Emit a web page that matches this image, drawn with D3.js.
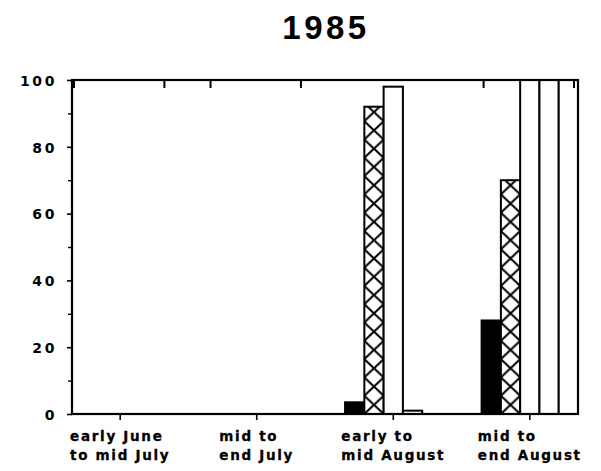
<!DOCTYPE html>
<html>
<head>
<meta charset="utf-8">
<script src="https://cdn.jsdelivr.net/npm/d3@7"></script>
<style>
  html, body { margin: 0; padding: 0; background: #fff; }
  svg { display: block; }
</style>
</head>
<body>
<svg id="chart" width="601" height="471"></svg>
<script>
// ---- data ----
const title = "1985";
const categories = [
  ["early June", "to mid July"],
  ["mid to", "end July"],
  ["early to", "mid August"],
  ["mid to", "end August"]
];
const seriesNames = ["S1", "S2", "S3", "S4", "S5"];
const seriesStyles = ["solid", "crosshatch", "open", "open", "open"];
const s1 = [0, 0, 3.5, 28];
const s2 = [0, 0, 92, 70];
const s3 = [0, 0, 98, 100];
const s4 = [0, 0, 1, 100];
const s5 = [0, 0, 0, 100];
const seriesValues = [s1, s2, s3, s4, s5];
const yTicks = [0, 20, 40, 60, 80, 100];
const yMinorTicks = [10, 30, 50, 70, 90];
const topTickCats = [0, 1, 3];

// ---- layout ----
const svg = d3.select("#chart");
const L = 72, R = 578, T = 80, B = 414;
const ink = "#000";

const catIdx = categories.map((d, i) => i);
const x = d3.scaleBand().domain(catIdx).range([L, R]).paddingInner(0.294).paddingOuter(0);
const xs = d3.scaleBand().domain(seriesNames).range([0, x.bandwidth()]).padding(0);
const y = d3.scaleLinear().domain([0, 100]).range([B, T]);

const defs = svg.append("defs");
const cellH = 18.3;

// bars
const bars = [];
categories.forEach((c, ci) => {
  seriesNames.forEach((s, si) => {
    const v = seriesValues[si][ci];
    if (v > 0) bars.push({ci, si, v});
  });
});

bars.forEach((b, k) => {
  const bx = x(b.ci) + xs(seriesNames[b.si]);
  const bw = xs.bandwidth();
  const style = seriesStyles[b.si];
  let fill = "#fff";
  if (style === "solid") fill = ink;
  if (style === "crosshatch") {
    const id = "hatch" + k;
    const p = defs.append("pattern")
      .attr("id", id)
      .attr("patternUnits", "userSpaceOnUse")
      .attr("x", bx).attr("y", y(0))
      .attr("width", bw).attr("height", cellH);
    p.append("rect").attr("width", bw).attr("height", cellH).attr("fill", "#fff");
    p.append("path")
      .attr("d", `M0,0L${bw},${cellH}M${bw},0L0,${cellH}`)
      .attr("stroke", ink).attr("stroke-width", 2).attr("fill", "none");
    fill = `url(#${id})`;
  }
  svg.append("rect")
    .attr("x", bx).attr("y", y(b.v))
    .attr("width", bw).attr("height", y(0) - y(b.v))
    .attr("fill", fill)
    .attr("stroke", ink).attr("stroke-width", 2);
});

// frame
svg.append("rect")
  .attr("x", L).attr("y", T).attr("width", R - L).attr("height", B - T)
  .attr("fill", "none").attr("stroke", ink).attr("stroke-width", 2.2);

// y axis
const yAxis = svg.append("g").attr("transform", `translate(${L},0)`)
  .call(d3.axisLeft(y).tickValues(yTicks).tickSize(5).tickPadding(10).tickFormat(d3.format("d")));
yAxis.select(".domain").remove();
yAxis.selectAll("line").attr("stroke", ink).attr("stroke-width", 1.6);
yAxis.selectAll("text")
  .attr("font-family", "'DejaVu Sans', sans-serif")
  .attr("font-weight", "bold")
  .attr("font-size", 14)
  .attr("letter-spacing", 2.6)
  .attr("fill", ink)
  .attr("x", -15)
  .attr("dy", "0.38em");

const yMinor = svg.append("g").attr("transform", `translate(${L},0)`)
  .call(d3.axisLeft(y).tickValues(yMinorTicks).tickSize(4).tickFormat(""));
yMinor.select(".domain").remove();
yMinor.selectAll("line").attr("stroke", ink).attr("stroke-width", 1.4);

// bottom ticks
svg.append("g").selectAll("line").data(catIdx).join("line")
  .attr("x1", d => x(d) + x.bandwidth() / 2).attr("x2", d => x(d) + x.bandwidth() / 2)
  .attr("y1", B).attr("y2", B + 6)
  .attr("stroke", ink).attr("stroke-width", 1.6);

// top inner ticks
const topTicks = [];
topTickCats.forEach(c => { topTicks.push(x(c) + 2); topTicks.push(x(c) + x.bandwidth() - 4); });
svg.append("g").selectAll("line").data(topTicks).join("line")
  .attr("x1", d => d).attr("x2", d => d)
  .attr("y1", T).attr("y2", T + 8)
  .attr("stroke", ink).attr("stroke-width", 2);

// x labels
const lab = svg.append("g");
categories.forEach((lines, ci) => {
  const g = lab.append("g");
  const texts = lines.map((t, li) => g.append("text")
    .attr("y", 441 + li * 18.5)
    .attr("font-family", "'DejaVu Sans', sans-serif")
    .attr("font-weight", "bold")
    .attr("font-size", 13.5)
    .attr("letter-spacing", 1.7)
    .attr("fill", ink)
    .attr("stroke", ink).attr("stroke-width", 0.3)
    .text(t));
  const maxW = d3.max(texts, t => t.node().getComputedTextLength());
  const cx = x(ci) + x.bandwidth() / 2;
  texts.forEach(t => t.attr("x", cx - maxW / 2));
});

// title
svg.append("text")
  .attr("x", 326).attr("y", 39)
  .attr("text-anchor", "middle")
  .attr("font-family", "'Liberation Sans', Arial, sans-serif")
  .attr("font-weight", "bold")
  .attr("font-size", 33)
  .attr("letter-spacing", 3.5)
  .attr("fill", ink)
  .text(title);
</script>
</body>
</html>
